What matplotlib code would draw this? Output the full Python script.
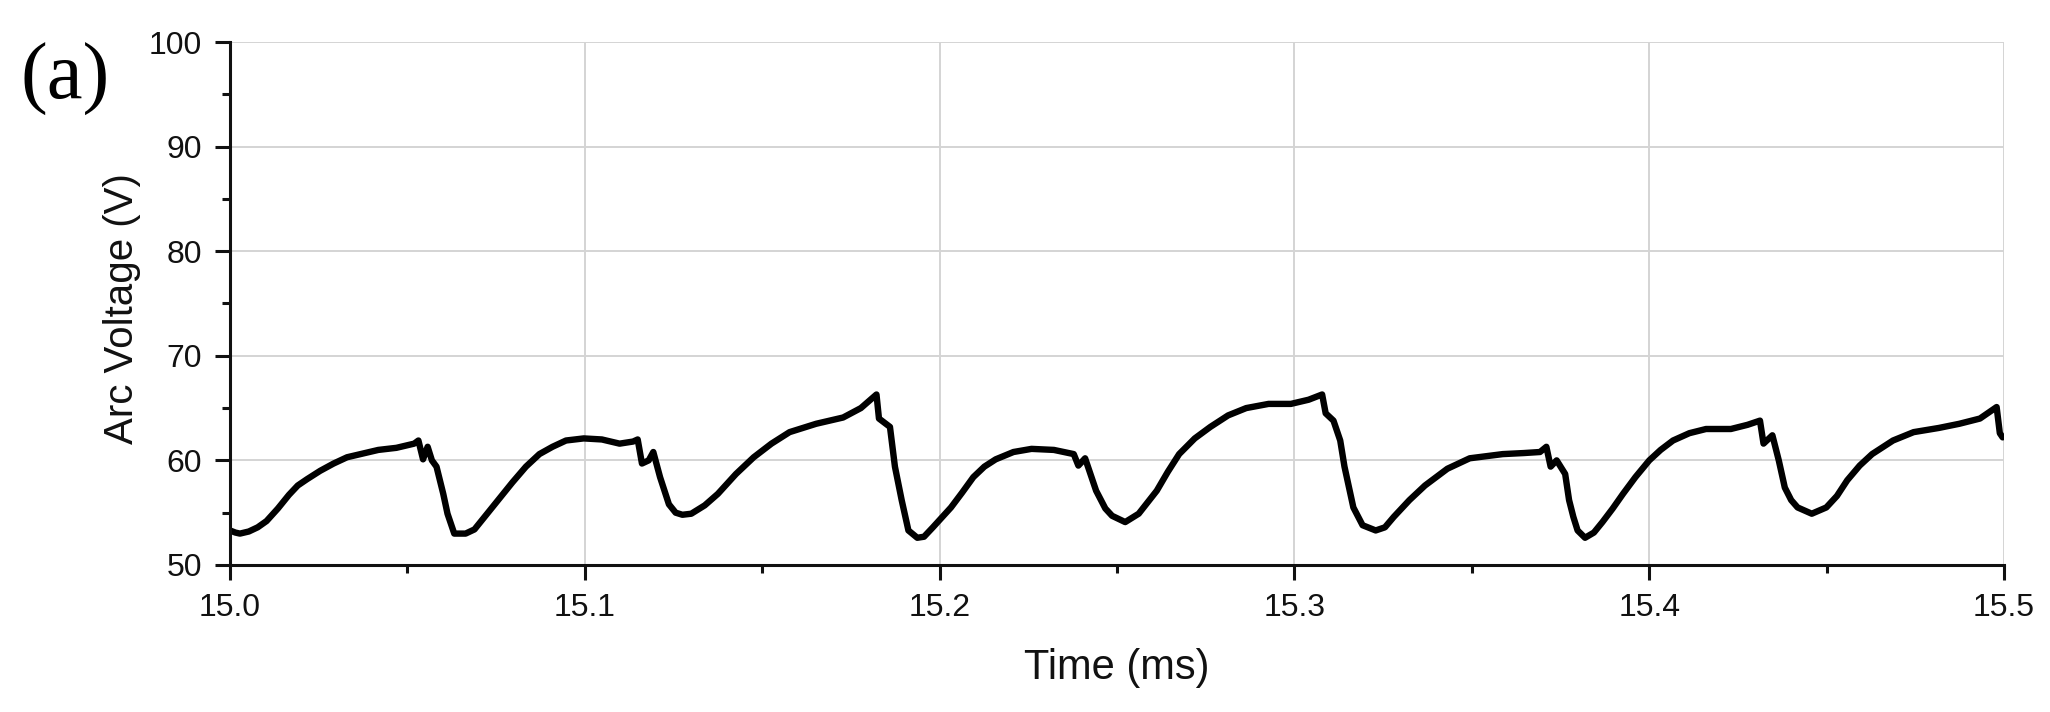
import matplotlib
matplotlib.use("Agg")
import matplotlib.pyplot as plt
from matplotlib.ticker import MultipleLocator

# Arc voltage trace (time in ms, voltage in V)
time_ms = [
    15.0000, 15.0015, 15.0028, 15.0053, 15.0078, 15.0103, 15.0135, 15.0166, 15.0191, 15.0217,
    15.0254, 15.0292, 15.0330, 15.0368, 15.0418, 15.0469, 15.0519, 15.0531, 15.0544, 15.0557,
    15.0569, 15.0582, 15.0601, 15.0613, 15.0632, 15.0664, 15.0689, 15.0720, 15.0758, 15.0796,
    15.0834, 15.0872, 15.0909, 15.0947, 15.0997, 15.1048, 15.1098, 15.1136, 15.1149, 15.1161,
    15.1180, 15.1193, 15.1212, 15.1237, 15.1256, 15.1275, 15.1300, 15.1338, 15.1375, 15.1426,
    15.1476, 15.1526, 15.1577, 15.1652, 15.1728, 15.1778, 15.1822, 15.1829, 15.1860, 15.1874,
    15.1893, 15.1912, 15.1937, 15.1956, 15.1981, 15.2032, 15.2063, 15.2095, 15.2126, 15.2158,
    15.2208, 15.2259, 15.2322, 15.2378, 15.2391, 15.2410, 15.2441, 15.2467, 15.2486, 15.2523,
    15.2561, 15.2612, 15.2643, 15.2675, 15.2719, 15.2763, 15.2813, 15.2864, 15.2927, 15.2990,
    15.3040, 15.3078, 15.3088, 15.3110, 15.3129, 15.3141, 15.3166, 15.3192, 15.3229, 15.3255,
    15.3280, 15.3324, 15.3368, 15.3431, 15.3494, 15.3587, 15.3646, 15.3692, 15.3710, 15.3722,
    15.3739, 15.3763, 15.3774, 15.3786, 15.3798, 15.3819, 15.3844, 15.3868, 15.3897, 15.3926,
    15.3961, 15.4000, 15.4032, 15.4067, 15.4113, 15.4160, 15.4230, 15.4277, 15.4312, 15.4322,
    15.4347, 15.4365, 15.4382, 15.4400, 15.4418, 15.4458, 15.4499, 15.4529, 15.4558, 15.4593,
    15.4628, 15.4687, 15.4745, 15.4816, 15.4874, 15.4932, 15.4979, 15.4988, 15.4996,
]
arc_voltage = [
    53.3, 53.1, 53.0, 53.2, 53.6, 54.2, 55.4, 56.7, 57.6, 58.2,
    59.0, 59.7, 60.3, 60.6, 61.0, 61.2, 61.6, 61.9, 60.1, 61.3,
    60.0, 59.4, 56.8, 54.9, 53.0, 53.0, 53.4, 54.7, 56.3, 57.9,
    59.4, 60.6, 61.3, 61.9, 62.1, 62.0, 61.6, 61.8, 62.0, 59.7,
    60.0, 60.8, 58.4, 55.8, 55.0, 54.8, 54.9, 55.7, 56.8, 58.7,
    60.3, 61.6, 62.7, 63.5, 64.1, 65.0, 66.3, 64.0, 63.2, 59.4,
    56.2, 53.3, 52.6, 52.7, 53.6, 55.5, 56.9, 58.4, 59.4, 60.1,
    60.8, 61.1, 61.0, 60.6, 59.5, 60.2, 57.1, 55.4, 54.7, 54.1,
    54.9, 57.1, 58.9, 60.6, 62.1, 63.2, 64.3, 65.0, 65.4, 65.4,
    65.8, 66.3, 64.5, 63.8, 61.9, 59.4, 55.5, 53.8, 53.3, 53.6,
    54.6, 56.2, 57.6, 59.2, 60.2, 60.6, 60.7, 60.8, 61.3, 59.4,
    60.0, 58.7, 56.2, 54.6, 53.3, 52.6, 53.1, 54.1, 55.4, 56.8,
    58.4, 60.0, 61.0, 61.9, 62.6, 63.0, 63.0, 63.4, 63.8, 61.6,
    62.4, 60.0, 57.4, 56.2, 55.5, 54.9, 55.5, 56.6, 58.1, 59.5,
    60.6, 61.9, 62.7, 63.1, 63.5, 64.0, 65.1, 62.6, 62.2,
]

plt.rcParams['font.family'] = ['Liberation Sans', 'DejaVu Sans']

fig = plt.figure(figsize=(20.5, 7.12), dpi=100)
ax = fig.add_axes([0.1122, 0.2065, 0.8654, 0.7345])

ax.plot(time_ms, arc_voltage, color='black', lw=4.6,
        solid_joinstyle='round', solid_capstyle='round')

ax.set_xlim(15.0, 15.5)
ax.set_ylim(50, 100)
ax.xaxis.set_major_locator(MultipleLocator(0.1))
ax.xaxis.set_minor_locator(MultipleLocator(0.05))
ax.yaxis.set_major_locator(MultipleLocator(10))
ax.yaxis.set_minor_locator(MultipleLocator(5))
ax.xaxis.set_major_formatter(plt.FormatStrFormatter('%.1f'))

ax.grid(True, which='major', color='#d4d4d4', lw=1.4)
ax.set_axisbelow(True)

for side in ['top', 'right']:
    ax.spines[side].set_visible(False)
for side in ['left', 'bottom']:
    ax.spines[side].set_linewidth(2.2)
    ax.spines[side].set_color('#111111')

ax.tick_params(which='major', direction='out', length=11, width=2.2,
               labelsize=23, colors='#111111', pad=9)
ax.tick_params(which='minor', direction='out', length=5.5, width=2.2, colors='#111111')

ax.set_xlabel('Time (ms)', fontsize=30, color='#111111')
ax.xaxis.set_label_coords(0.5, -0.158)
ax.set_ylabel('Arc Voltage (V)', fontsize=29, color='#111111')
ax.yaxis.set_label_coords(-0.050, 0.49)

fig.text(0.032, 0.888, '(a)', fontsize=58, family='Liberation Serif', ha='center', va='center')

fig.savefig('out.png', dpi=100)
